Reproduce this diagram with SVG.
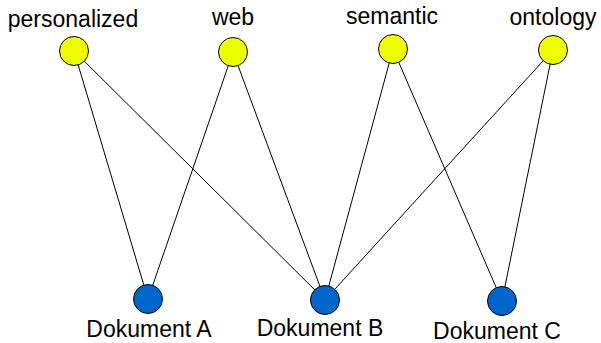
<svg xmlns="http://www.w3.org/2000/svg" width="601" height="343" viewBox="0 0 601 343">
<style>
.t{font-family:"Liberation Sans",Arial,sans-serif;font-size:23px;fill:#000;text-anchor:middle}
.kw{fill:#eeff00;stroke:#000;stroke-width:1}
.doc{fill:#0066cc;stroke:#000;stroke-width:1}
.e{stroke:#000;stroke-width:1;fill:none}
</style>
<rect width="601" height="343" fill="#fff"/>
<g id="connectors">
<line class="e" x1="74" y1="51" x2="148" y2="299"/>
<line class="e" x1="74" y1="51" x2="325" y2="300"/>
<line class="e" x1="233" y1="52" x2="148" y2="299"/>
<line class="e" x1="233" y1="52" x2="325" y2="300"/>
<line class="e" x1="393" y1="49" x2="325" y2="300"/>
<line class="e" x1="393" y1="49" x2="502" y2="301"/>
<line class="e" x1="553" y1="50" x2="325" y2="300"/>
<line class="e" x1="553" y1="50" x2="502" y2="301"/>
</g>
<g id="personalized"><circle class="kw" cx="74" cy="51" r="14.5"/><text class="t" x="73" y="27">personalized</text></g>
<g id="web"><circle class="kw" cx="233" cy="52" r="14.5"/><text class="t" x="233" y="25">web</text></g>
<g id="semantic"><circle class="kw" cx="393" cy="49" r="14.5"/><text class="t" x="392" y="24">semantic</text></g>
<g id="ontology"><circle class="kw" cx="553" cy="50" r="14.5"/><text class="t" x="553" y="25">ontology</text></g>
<g id="dokA"><circle class="doc" cx="148" cy="299" r="14.5"/><text class="t" x="149" y="337">Dokument A</text></g>
<g id="dokB"><circle class="doc" cx="325" cy="300" r="14.5"/><text class="t" x="320" y="336">Dokument B</text></g>
<g id="dokC"><circle class="doc" cx="502" cy="301" r="14.5"/><text class="t" x="497" y="339">Dokument C</text></g>
</svg>
